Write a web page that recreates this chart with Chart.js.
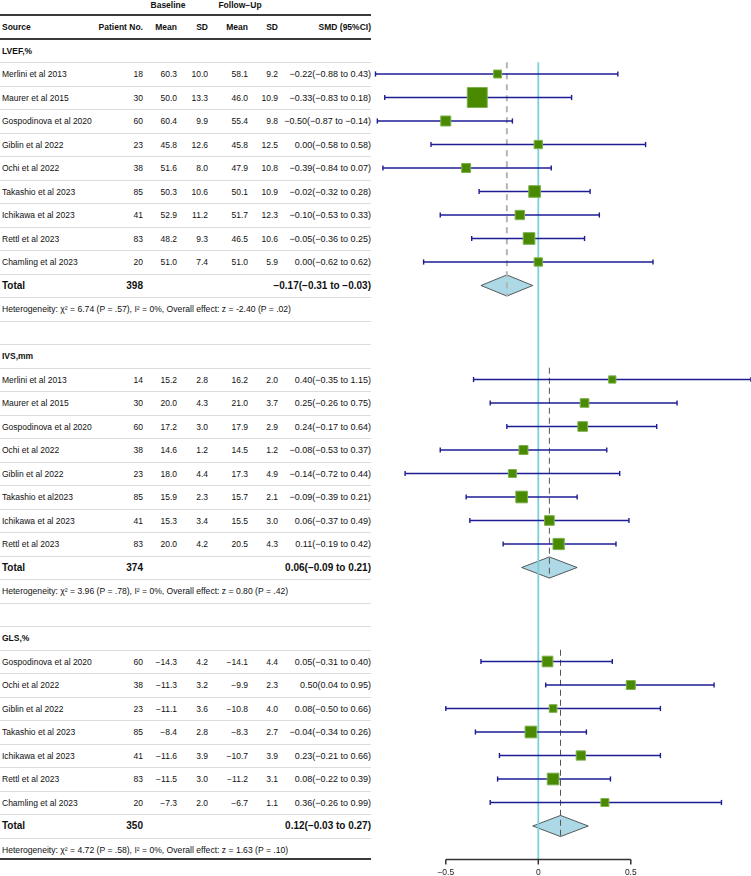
<!DOCTYPE html>
<html>
<head>
<meta charset="utf-8">
<script src="https://cdn.jsdelivr.net/npm/chart.js@4.4.1/dist/chart.umd.min.js"></script>
<style>
  html, body { margin: 0; padding: 0; background: #fff; }
  #wrap { position: relative; width: 751px; height: 876px; overflow: hidden;
          font-family: "Liberation Sans", Arial, sans-serif; color: #111; }
  #table { position: absolute; left: 0; top: 0; width: 751px; height: 876px; }
  #forest { position: absolute; left: 0; top: 0; pointer-events: none; }
  .t { position: absolute; white-space: nowrap; font-size: 8.5px; line-height: 12px; }
  .b { font-weight: bold; }
  .ci { font-size: 9px; }
  .tot { font-weight: bold; font-size: 10px; }
  .het { font-size: 8.6px; }
  .ln { position: absolute; left: 0; width: 371px; }
</style>
</head>
<body>
<div id="wrap">
  <div id="table"></div>
  <canvas id="forest" width="751" height="876"></canvas>
</div>
<script>
// LVEF, %
const lvefStudy = ['Merlini et al 2013', 'Maurer et al 2015', 'Gospodinova et al 2020', 'Giblin et al 2022', 'Ochi et al 2022',
  'Takashio et al 2023', 'Ichikawa et al 2023', 'Rettl et al 2023', 'Chamling et al 2023'];
const lvefN = [18, 30, 60, 23, 38, 85, 41, 83, 20];
const lvefBaseMean = [60.3, 50.0, 60.4, 45.8, 51.6, 50.3, 52.9, 48.2, 51.0];
const lvefBaseSD = [10.0, 13.3, 9.9, 12.6, 8.0, 10.6, 11.2, 9.3, 7.4];
const lvefFuMean = [58.1, 46.0, 55.4, 45.8, 47.9, 50.1, 51.7, 46.5, 51.0];
const lvefFuSD = [9.2, 10.9, 9.8, 12.5, 10.8, 10.9, 12.3, 10.6, 5.9];
const lvefSmd = [-0.22, -0.33, -0.50, 0.00, -0.39, -0.02, -0.10, -0.05, 0.00];
const lvefLo = [-0.88, -0.83, -0.87, -0.58, -0.84, -0.32, -0.53, -0.36, -0.62];
const lvefHi = [0.43, 0.18, -0.14, 0.58, 0.07, 0.28, 0.33, 0.25, 0.62];
const lvefWeight = [5.5, 34.6, 8.7, 6.0, 7.0, 11.8, 7.5, 11.8, 6.0];

// IVS, mm
const ivsStudy = ['Merlini et al 2013', 'Maurer et al 2015', 'Gospodinova et al 2020', 'Ochi et al 2022', 'Giblin et al 2022',
  'Takashio et al2023', 'Ichikawa et al 2023', 'Rettl et al 2023'];
const ivsN = [14, 30, 60, 38, 23, 85, 41, 83];
const ivsBaseMean = [15.2, 20.0, 17.2, 14.6, 18.0, 15.9, 15.3, 20.0];
const ivsBaseSD = [2.8, 4.3, 3.0, 1.2, 4.4, 2.3, 3.4, 4.2];
const ivsFuMean = [16.2, 21.0, 17.9, 14.5, 17.3, 15.7, 15.5, 20.5];
const ivsFuSD = [2.0, 3.7, 2.9, 1.2, 4.9, 2.1, 3.0, 4.3];
const ivsSmd = [0.40, 0.25, 0.24, -0.08, -0.14, -0.09, 0.06, 0.11];
const ivsLo = [-0.35, -0.26, -0.17, -0.53, -0.72, -0.39, -0.37, -0.19];
const ivsHi = [1.15, 0.75, 0.64, 0.37, 0.44, 0.21, 0.49, 0.42];
const ivsWeight = [4.6, 6.5, 8.1, 7.0, 5.5, 11.8, 8.1, 11.0];

// GLS, %
const glsStudy = ['Gospodinova et al 2020', 'Ochi et al 2022', 'Giblin et al 2022', 'Takashio et al 2023',
  'Ichikawa et al 2023', 'Rettl et al 2023', 'Chamling et al 2023'];
const glsN = [60, 38, 23, 85, 41, 83, 20];
const glsBaseMean = [-14.3, -11.3, -11.1, -8.4, -11.6, -11.5, -7.3];
const glsBaseSD = [4.2, 3.2, 3.6, 2.8, 3.9, 3.0, 2.0];
const glsFuMean = [-14.1, -9.9, -10.8, -8.3, -10.7, -11.2, -6.7];
const glsFuSD = [4.4, 2.3, 4.0, 2.7, 3.9, 3.1, 1.1];
const glsSmd = [0.05, 0.50, 0.08, -0.04, 0.23, 0.08, 0.36];
const glsLo = [-0.31, 0.04, -0.50, -0.34, -0.21, -0.22, -0.26];
const glsHi = [0.40, 0.95, 0.66, 0.26, 0.66, 0.39, 0.99];
const glsWeight = [9.9, 7.0, 5.1, 11.8, 7.5, 11.8, 5.5];

// pooled results, one entry per section
const sectionTitle = ['LVEF,%', 'IVS,mm', 'GLS,%'];
const totalN = [398, 374, 350];
const totalSmd = [-0.17, 0.06, 0.12];
const totalLo = [-0.31, -0.09, -0.03];
const totalHi = [-0.03, 0.21, 0.27];
const hetChi2 = ['6.74', '3.96', '4.72'];
const hetP = ['.57', '.78', '.58'];
const hetI2 = ['0%', '0%', '0%'];
const effectZ = ['-2.40', '0.80', '1.63'];
const effectP = ['.02', '.42', '.10'];

const axisTicks = [-0.5, 0, 0.5];

const W = 751, H = 876;
const ROW_H = 23.5, ROW0 = 27;      // row pitch and centre of header row (px)
const PX_PER_UNIT = 185, ZERO_X = 538.3;

const sections = [
  { s: lvefStudy, n: lvefN, bm: lvefBaseMean, bsd: lvefBaseSD, fm: lvefFuMean, fsd: lvefFuSD, smd: lvefSmd, lo: lvefLo, hi: lvefHi, w: lvefWeight },
  { s: ivsStudy, n: ivsN, bm: ivsBaseMean, bsd: ivsBaseSD, fm: ivsFuMean, fsd: ivsFuSD, smd: ivsSmd, lo: ivsLo, hi: ivsHi, w: ivsWeight },
  { s: glsStudy, n: glsN, bm: glsBaseMean, bsd: glsBaseSD, fm: glsFuMean, fsd: glsFuSD, smd: glsSmd, lo: glsLo, hi: glsHi, w: glsWeight }
];

// assign table rows: header row 0, then per section title, studies, total, heterogeneity, spacer
let r = 1;
sections.forEach(sec => {
  sec.headRow = r++;
  sec.rows = sec.s.map(() => r++);
  sec.totalRow = r++;
  sec.hetRow = r++;
  r++;
});
const lastRow = sections[sections.length - 1].hetRow;
const axisRow = lastRow + 0.45;

const fmt = (v, d) => v.toFixed(d).replace('-', '\u2212');
const ci = (e, lo, hi) => `${fmt(e, 2)}(${fmt(lo, 2)} to ${fmt(hi, 2)})`;

// datasets
const boxPoints = [];
const ciSets = [];
const diamondSets = [];
const pooledSets = [];
sections.forEach((sec, k) => {
  sec.smd.forEach((v, i) => {
    boxPoints.push({ x: v, y: sec.rows[i], w: sec.w[i] });
    ciSets.push({
      data: [{ x: sec.lo[i], y: sec.rows[i] }, { x: sec.hi[i], y: sec.rows[i] }],
      showLine: true, borderColor: '#1d1d94', borderWidth: 1.5,
      pointStyle: 'line', rotation: 90, pointRadius: 2.6, pointBorderColor: '#1d1d94', pointBorderWidth: 1.4,
      order: 1
    });
  });
  const t = sec.totalRow, h = 0.45;
  diamondSets.push({
    data: [{ x: totalLo[k], y: t }, { x: totalSmd[k], y: t - h }, { x: totalHi[k], y: t }, { x: totalSmd[k], y: t + h }, { x: totalLo[k], y: t }],
    showLine: true, fill: 'shape', backgroundColor: '#add8e6', borderColor: '#333', borderWidth: 0.8,
    pointRadius: 0, order: 5
  });
  pooledSets.push({
    data: [{ x: totalSmd[k], y: sec.headRow + 0.5 }, { x: totalSmd[k], y: t + h }],
    showLine: true, borderColor: k === 0 ? '#b4b4b4' : '#555', borderWidth: k === 0 ? 2 : 1,
    borderDash: k === 0 ? [6, 5] : [6, 4], pointRadius: 0, order: 3
  });
});

const xMin = -ZERO_X / PX_PER_UNIT;
const xMax = xMin + W / PX_PER_UNIT;
const yMin = -ROW0 / ROW_H;
const yMax = yMin + H / ROW_H;

const axisPlugin = {
  id: 'smdAxis',
  afterDatasetsDraw(chart) {
    const { ctx, scales: { x, y } } = chart;
    const yy = Math.round(y.getPixelForValue(axisRow)) - 0.5;
    ctx.save();
    ctx.strokeStyle = '#333';
    ctx.lineWidth = 1.5;
    ctx.beginPath();
    ctx.moveTo(x.getPixelForValue(axisTicks[0]), yy);
    ctx.lineTo(x.getPixelForValue(axisTicks[axisTicks.length - 1]), yy);
    axisTicks.forEach(tk => {
      const px = x.getPixelForValue(tk);
      ctx.moveTo(px, yy);
      ctx.lineTo(px, yy + 5);
    });
    ctx.stroke();
    ctx.fillStyle = '#222';
    ctx.font = '8.5px "Liberation Sans", Arial, sans-serif';
    ctx.textAlign = 'center';
    ctx.textBaseline = 'middle';
    axisTicks.forEach(tk => ctx.fillText(fmt(tk, tk === 0 ? 0 : 1), x.getPixelForValue(tk), yy + 13));
    ctx.restore();
  }
};

const chart = new Chart(document.getElementById('forest'), {
  type: 'scatter',
  data: {
    datasets: [
      {
        data: boxPoints,
        pointStyle: 'rect',
        pointRadius: c => 2.4 * Math.sqrt(c.raw.w),
        backgroundColor: '#4a8a00', borderColor: '#7db14f', borderWidth: 1,
        order: 0
      },
      ...ciSets,
      {
        data: [{ x: 0, y: sections[0].headRow + 0.5 }, { x: 0, y: axisRow }],
        showLine: true, borderColor: '#7fcfdb', borderWidth: 1.8, pointRadius: 0, order: 2
      },
      ...pooledSets,
      ...diamondSets
    ]
  },
  options: {
    responsive: false,
    animation: false,
    devicePixelRatio: 1,
    events: [],
    layout: { padding: 0, autoPadding: false },
    scales: {
      x: { type: 'linear', min: xMin, max: xMax, display: false },
      y: { type: 'linear', min: yMin, max: yMax, reverse: true, display: false }
    },
    plugins: { legend: { display: false }, tooltip: { enabled: false } }
  },
  plugins: [axisPlugin]
});

// table on the left, rows placed with the chart's own y scale
const table = document.getElementById('table');
const yOf = row => chart.scales.y.getPixelForValue(row);
const half = ROW_H / 2;
const COL = { src: 2, n: 143, bMean: 177, bSD: 208, fMean: 248, fSD: 278, smd: 371 };

function addText(str, x, y, align, cls) {
  const s = document.createElement('span');
  s.className = 't ' + (cls || '');
  s.textContent = str;
  s.style.top = (y - 6) + 'px';
  if (align === 'right') s.style.right = (W - x) + 'px';
  else if (align === 'center') { s.style.left = x + 'px'; s.style.transform = 'translateX(-50%)'; }
  else s.style.left = x + 'px';
  table.appendChild(s);
}
function addLine(y, thick) {
  const d = document.createElement('div');
  d.className = 'ln';
  d.style.top = (thick ? y - 1 : y) + 'px';
  d.style.height = thick ? '2px' : '1px';
  d.style.background = thick ? '#3a3a3a' : '#dcdcdc';
  table.appendChild(d);
}

// header
const y0 = yOf(0);
addText('Baseline', 168, y0 - 22, 'center', 'b');
addText('Follow\u2212Up', 240, y0 - 22, 'center', 'b');
addText('Source', COL.src, y0, 'left', 'b');
addText('Patient No.', COL.n, y0, 'right', 'b');
addText('Mean', COL.bMean, y0, 'right', 'b');
addText('SD', COL.bSD, y0, 'right', 'b');
addText('Mean', COL.fMean, y0, 'right', 'b');
addText('SD', COL.fSD, y0, 'right', 'b');
addText('SMD (95%CI)', COL.smd, y0, 'right', 'b');
addLine(y0 - half, true);
addLine(y0 + half, true);

sections.forEach((sec, k) => {
  addText(sectionTitle[k], COL.src, yOf(sec.headRow), 'left', 'b');
  sec.s.forEach((name, i) => {
    const y = yOf(sec.rows[i]);
    addText(name, COL.src, y, 'left');
    addText(String(sec.n[i]), COL.n, y, 'right');
    addText(fmt(sec.bm[i], 1), COL.bMean, y, 'right');
    addText(fmt(sec.bsd[i], 1), COL.bSD, y, 'right');
    addText(fmt(sec.fm[i], 1), COL.fMean, y, 'right');
    addText(fmt(sec.fsd[i], 1), COL.fSD, y, 'right');
    addText(ci(sec.smd[i], sec.lo[i], sec.hi[i]), COL.smd, y, 'right', 'ci');
  });
  const yt = yOf(sec.totalRow);
  addText('Total', COL.src, yt, 'left', 'tot');
  addText(String(totalN[k]), COL.n, yt, 'right', 'tot');
  addText(ci(totalSmd[k], totalLo[k], totalHi[k]), COL.smd, yt, 'right', 'tot');
  addText(`Heterogeneity: \u03c7\u00b2 = ${hetChi2[k]} (P = ${hetP[k]}), I\u00b2 = ${hetI2[k]}, Overall effect: z = ${effectZ[k]} (P = ${effectP[k]})`,
    COL.src, yOf(sec.hetRow), 'left', 'het');
});

for (let row = sections[0].headRow; row < lastRow; row++) addLine(yOf(row) + half, false);
addLine(yOf(lastRow) + half - 2, true);
</script>
</body>
</html>
